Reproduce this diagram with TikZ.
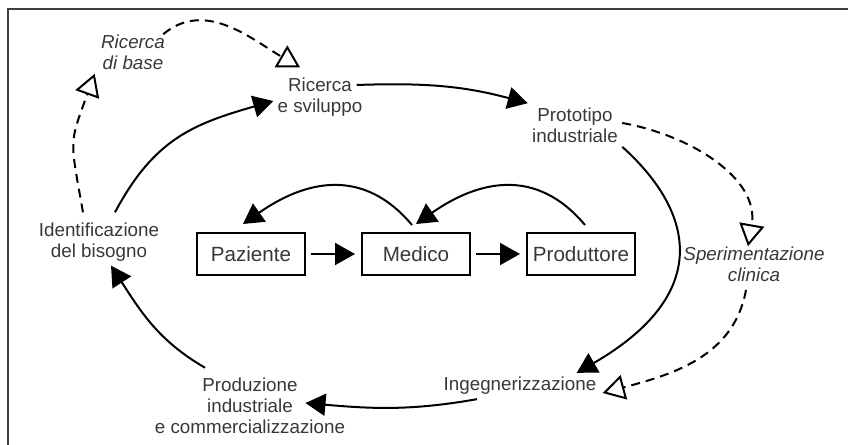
\documentclass[tikz,border=0pt]{standalone}
\usepackage{fontspec}
\setmainfont{Liberation Sans}
\usetikzlibrary{positioning}
\usetikzlibrary{arrows.meta}

\begin{document}
\begin{tikzpicture}[x=0.5pt, y=0.5pt]
    % Set styles
    \tikzset{
        boxNode/.style={
                draw,
                rectangle,
                line width=1pt,
                minimum width=54pt,
                minimum height=21pt,
                inner sep=0pt,
                text=black!78,
                font=\fontsize{10.3}{12}\selectfont
            }
    }
    \tikzset{
        stageNode/.style={
                align=center,
                inner sep=2pt,
                text=black!78,
                font=\fontsize{9.4}{10.5}\selectfont
            }
    }
    \tikzset{
        testNode/.style={
                stageNode,
                font=\fontsize{9.4}{10.5}\selectfont\itshape
            }
    }
    \tikzset{
        arrow/.style={
                line width=1pt,
                -{Triangle[length=10pt, width=11pt]}
            }
    }
    \tikzset{
        dashArrow/.style={
                line width=1pt,
                dash pattern=on 4.5pt off 3pt,
                -{Triangle[open, length=11pt, width=12.5pt, line width=1pt]}
            }
    }
    \useasboundingbox (0,0) rectangle (848,445);
    % Frame
    \draw[line width=1pt, black!75] (7.5,0) |- (848,435.5);
    % Placing nodes
    \node[boxNode] (paziente) at (251,191) {Paziente};
    \node[boxNode, right = 27.5pt of paziente] (medico) {Medico};
    \node[boxNode, right = 27.5pt of medico] (produttore) {Produttore};
    \node[stageNode] (ricerca) at (320,348) {Ricerca\\e sviluppo};
    \node[stageNode] (prototipo) at (575,320) {Prototipo\\industriale};
    \node[stageNode] (ingegn) at (520,59) {Ingegnerizzazione};
    \node[stageNode] (produzione) at (250,39) {Produzione\\industriale\\e commercializzazione};
    \node[stageNode] (bisogno) at (99,203) {Identificazione\\del bisogno};
    \node[testNode] (base) at (133,393) {Ricerca\\di base};
    \node[testNode] (sperim) at (754,181) {Sperimentazione\\clinica};
    % Draw arrows
    \draw[arrow, shorten <=2.5pt, shorten >=3pt] (paziente) -- (medico);
    \draw[arrow, shorten <=2.5pt, shorten >=3pt] (medico) -- (produttore);
    \draw[arrow] ([xshift=-2pt,yshift=3.5pt]medico.north) to[out=130, in=35, looseness=1.15] ([xshift=-4pt,yshift=4pt]paziente.north);
    \draw[arrow] ([xshift=2pt,yshift=3.5pt]produttore.north) to[out=130, in=35, looseness=1.15] ([yshift=4pt]medico.north);
    \draw[arrow] ([xshift=8pt,yshift=3pt]bisogno.north) to[out=62, in=196, looseness=1.1] ([yshift=-2pt]ricerca.west);
    \draw[arrow] ([xshift=-5pt,yshift=6pt]ricerca.east) to[out=2, in=165] (prototipo.north west);
    \draw[arrow] (prototipo.south east) .. controls +(-42:99) and +(30:156) .. ([xshift=-12pt]ingegn.north east);
    \draw[arrow] ([xshift=-21.5pt]ingegn.south) to[out=190, in=-5] ([xshift=-22pt,yshift=1.5pt]produzione.east);
    \draw[arrow] ([xshift=-22.5pt,yshift=3pt]produzione.north) to[out=150, in=-57] ([xshift=6pt]bisogno.south);
    \draw[dashArrow] ([xshift=-8pt,yshift=3pt]bisogno.north) to[out=100, in=-110, looseness=1.4] ([xshift=-1pt]base.south west);
    \draw[dashArrow] ([xshift=-3pt,yshift=-2pt]base.north east) to[out=40, in=150] ([xshift=-10pt,yshift=3pt]ricerca.north);
    \draw[dashArrow] ([yshift=1pt]prototipo.east) to[out=-10, in=80] ([xshift=-3pt,yshift=-2pt]sperim.north);
    \draw[dashArrow] ([xshift=-4pt,yshift=-2pt]sperim.south) to[out=-100, in=15] ([xshift=1pt,yshift=-3.5pt]ingegn.east);
\end{tikzpicture}
\end{document}
